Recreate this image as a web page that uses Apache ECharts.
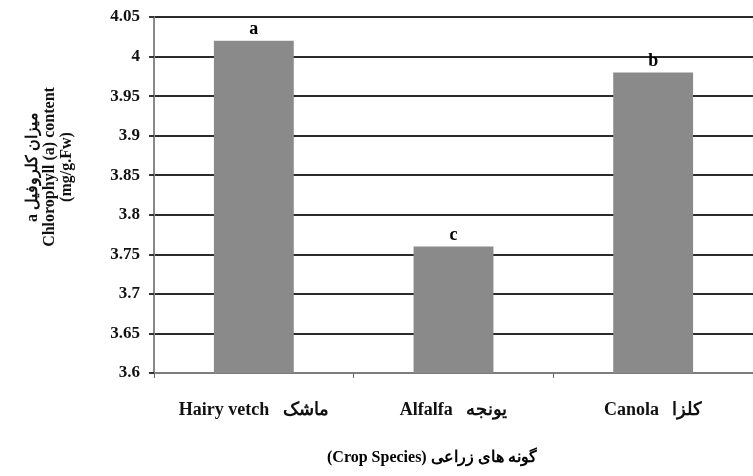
<!DOCTYPE html>
<html><head><meta charset="utf-8">
<script src="https://cdn.jsdelivr.net/npm/echarts@6/dist/echarts.min.js"></script>
<style>html,body{margin:0;padding:0;background:#fff}#c{width:753px;height:476px}</style>
</head><body><div id="c"></div>
<script>
var categories = ['Hairy vetch   ماشک', 'Alfalfa   یونجه', 'Canola   کلزا'];
var values = [4.02, 3.76, 3.98];
var letters = ['a', 'c', 'b'];
var yTicks = { min: 3.6, max: 4.05, interval: 0.05 };
var yName = 'a میزان کلروفیل\nChlorophyll (a) content\n(mg/g.Fw)';
var xName = '(Crop Species) گونه های زراعی';

var serif = '"Liberation Serif", "DejaVu Serif", serif';
var chart = echarts.init(document.getElementById('c'));
chart.setOption({
  animation: false,
  backgroundColor: '#fff',
  title: {
    text: xName, left: 322, top: 445,
    textStyle: { fontFamily: serif, fontWeight: 'bold', fontSize: 16, color: '#000' }
  },
  grid: { left: 154, top: 17, width: 606, height: 356 },
  xAxis: {
    type: 'category', data: categories,
    axisLine: { lineStyle: { color: '#999', width: 1.5 } },
    axisTick: { show: true, length: 5, lineStyle: { color: '#666' } },
    axisLabel: { interval: 0, hideOverlap: false, margin: 28, color: '#111', fontFamily: serif, fontWeight: 'bold', fontSize: 18 }
  },
  yAxis: {
    type: 'value', min: yTicks.min, max: yTicks.max, interval: yTicks.interval,
    name: yName, nameLocation: 'middle', nameRotate: 90, nameGap: 79,
    nameTextStyle: { fontFamily: serif, fontWeight: 'bold', fontSize: 16, lineHeight: 17, color: '#111', padding: [0, 0, 0, 56] },
    axisLine: { show: true, lineStyle: { color: '#888', width: 2 } },
    axisTick: { show: true, length: 5, lineStyle: { color: '#333', width: 2 } },
    axisLabel: { margin: 14, color: '#111', fontFamily: serif, fontWeight: 'bold', fontSize: 17 },
    splitLine: { show: true, lineStyle: { color: '#2a2a2a', width: 2 } }
  },
  series: [{
    type: 'bar', data: values, barCategoryGap: '60%',
    itemStyle: { color: '#8a8a8a' },
    label: {
      show: true, position: 'top', distance: 2,
      formatter: function (p) { return letters[p.dataIndex]; },
      fontFamily: serif, fontWeight: 'bold', fontSize: 18, color: '#000'
    }
  }]
});
</script></body></html>
